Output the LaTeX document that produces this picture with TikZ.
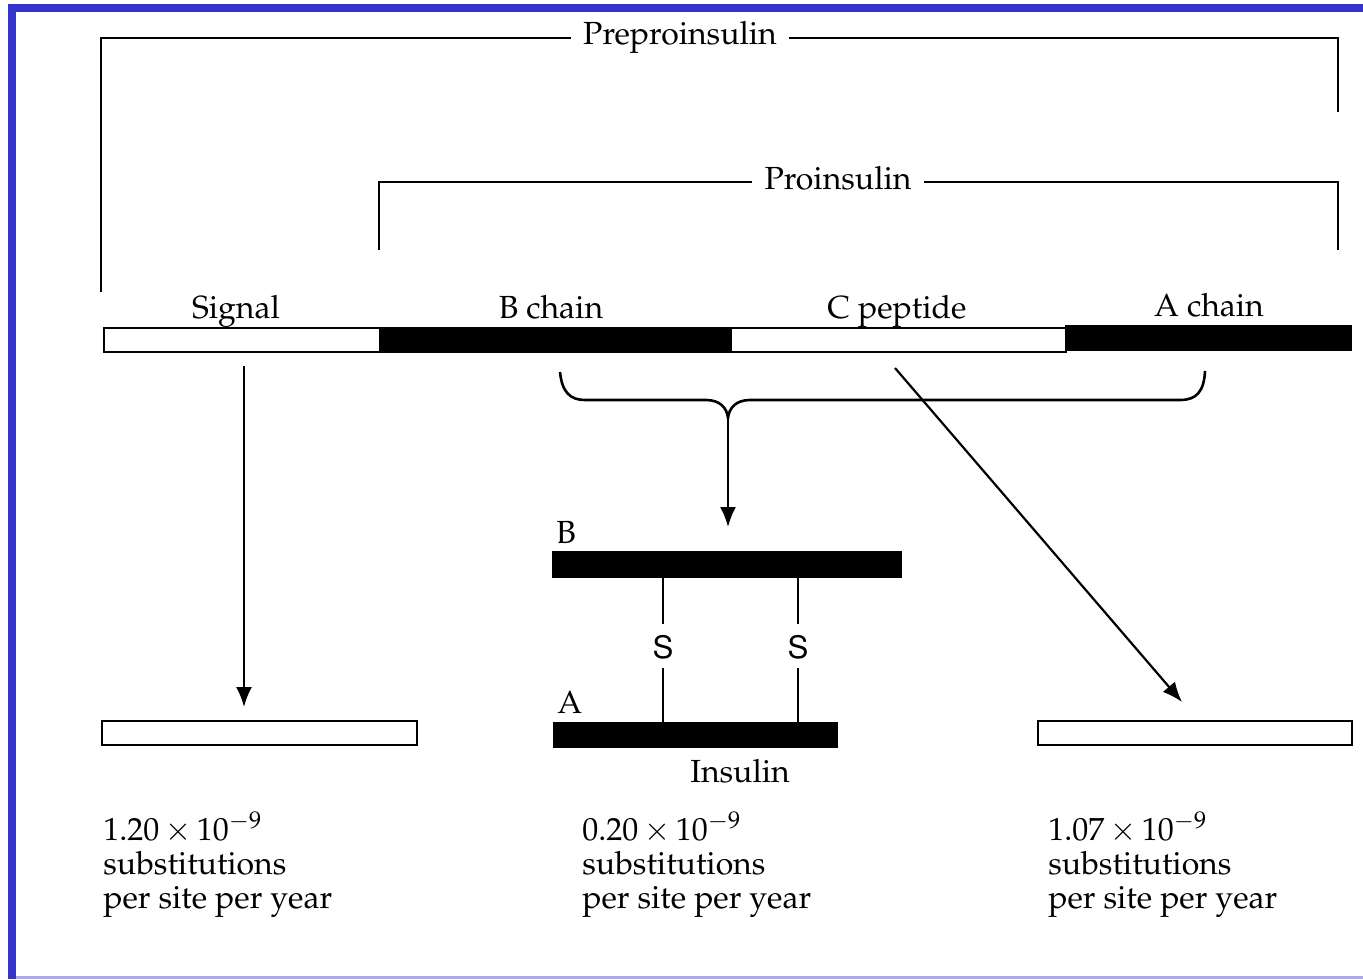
\documentclass[tikz,border=0pt]{standalone}
\usepackage[T1]{fontenc}
\usepackage{mathpazo}
\usepackage[scaled=0.92]{helvet}
\usetikzlibrary{arrows.meta}
\definecolor{framec}{RGB}{52,52,204}
\definecolor{framel}{RGB}{170,170,240}
\tikzset{
  lab/.style={font=\fontsize{16}{17}\selectfont, inner sep=0pt},
  bartxt/.style={lab, anchor=base},
  seg/.style={draw, line width=1pt, minimum height=12pt, inner sep=0pt, anchor=west},
  whiteseg/.style={seg, fill=white},
  blackseg/.style={seg, fill=black},
  brk/.style={line width=1.3pt},
  ttl/.style={font=\fontsize{16}{17}\selectfont, text height=11pt, text depth=4pt, inner xsep=6pt, inner ysep=0pt, fill=white},
  arr/.style={line width=1.1pt, -{Latex[length=10pt,width=8pt]}},
  bond/.style={line width=1pt},
  sulf/.style={inner sep=0pt, font=\fontsize{17}{18}\selectfont\sffamily},
  rate/.style={font=\fontsize{16}{17}\selectfont, align=left, anchor=base west, inner sep=0pt},
}
\begin{document}
\begin{tikzpicture}[x=0.5pt,y=-0.5pt]
\useasboundingbox (0,0) rectangle (1363,979);
% frame
\fill[framec] (8,4) rectangle (1363,12);
\fill[framec] (8,4) rectangle (16,979);
\fill[framel] (16,976) rectangle (1363,979);

% main bar
\node[whiteseg, minimum width=138pt] (sig) at (103,340) {};
\node[blackseg, minimum width=175.5pt] (bch) at (379,340) {};
\node[whiteseg, minimum width=167.5pt] (cpep) at (730,340) {};
\node[blackseg, minimum width=142.5pt] (ach) at (1065,338) {};

% segment labels
\node[bartxt] (lsig) at (236,318) {Signal};
\node[bartxt] (lbch) at (551,318) {B chain};
\node[bartxt] (lcpep) at (897,318) {C peptide};
\node[bartxt] (lach) at (1209,316) {A chain};

% brackets
\node[ttl] (pre) at (680,38) {Preproinsulin};
\coordinate (preL) at (101,292);
\coordinate (preR) at (1338,112);
\draw[brk] (preL) |- (pre.west);
\draw[brk] (pre.east) -| (preR);

\node[ttl] (pro) at (838,182) {Proinsulin};
\coordinate (proL) at (379,250);
\coordinate (proR) at (1338,250);
\draw[brk] (proL) |- (pro.west);
\draw[brk] (pro.east) -| (proR);

% signal arrow
\coordinate (s1) at (244,366);
\node[whiteseg, minimum width=157.5pt] (box1) at (101,733) {};
\coordinate (s2) at (244,707);
\draw[arr] (s1) -- (s2);

% brace
\coordinate (brL) at (560,372);
\coordinate (brR) at (1205,371);
\coordinate (cusp) at (728,418);
\draw[brk] (brL) .. controls (562,392) and (570,400) .. (585,400)
  -- (706,400) .. controls (720,400) and (727,408) .. (cusp)
  .. controls (729,408) and (736,400) .. (750,400)
  -- (1180,400) .. controls (1196,400) and (1204,392) .. (brR);

% insulin
\node[blackseg, minimum width=174pt, minimum height=12.5pt] (bbar) at (552,564.5) {};
\node[blackseg, minimum width=141.5pt, minimum height=12pt] (abar) at (553,735) {};
\node[lab, anchor=base west] (lB) at (556,543) {B};
\node[lab, anchor=base west] (lA) at (557,713) {A};
\node[lab, anchor=base] (lins) at (740,782) {Insulin};
\draw[arr] (cusp) -- ([yshift=12pt]bbar.north -| cusp);

\node[sulf] (s1t) at (663,647) {S};
\node[sulf] (s2t) at (798,647) {S};
\draw[bond] (bbar.south -| s1t) -- (663,624);
\draw[bond] (663,668) -- (abar.north -| s1t);
\draw[bond] (bbar.south -| s2t) -- (798,624);
\draw[bond] (798,668) -- (abar.north -| s2t);

% C peptide arrow
\coordinate (c1) at (895,368);
\coordinate (c2) at (1182,702);
\draw[arr] (c1) -- (c2);
\node[whiteseg, minimum width=157pt] (box3) at (1037,733) {};

% rates (base anchor = last line)
\node[rate] (r1) at (103,908) {1.20\,$\times$\,10$^{-9}$\\substitutions\\per site per year};
\node[rate] (r2) at (582,908) {0.20\,$\times$\,10$^{-9}$\\substitutions\\per site per year};
\node[rate] (r3) at (1048,908) {1.07\,$\times$\,10$^{-9}$\\substitutions\\per site per year};
\end{tikzpicture}
\end{document}
